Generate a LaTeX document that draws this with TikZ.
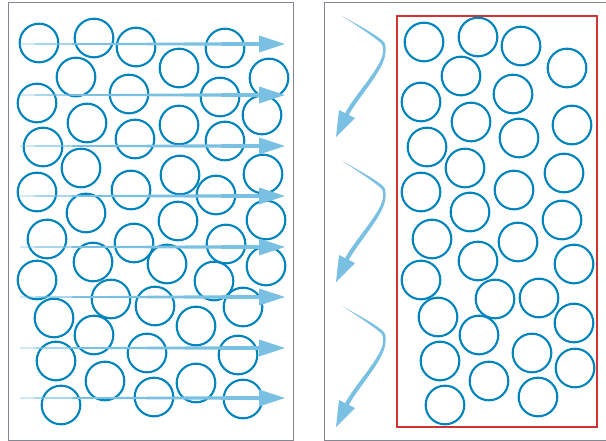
\documentclass[tikz,border=0pt]{standalone}
\usepackage{xcolor}
\definecolor{ballblue}{RGB}{0,132,190}
\definecolor{flowblue}{RGB}{122,192,226}
\definecolor{framegray}{RGB}{135,135,148}
\definecolor{boxred}{RGB}{206,52,52}
\usepackage{tikz}

\begin{document}
\begin{tikzpicture}[
      x=0.03cm, y=-0.03cm,
      ball/.style={circle, draw=ballblue, line width=1.8pt,
                   minimum size=1.16cm, inner sep=0pt},
      panel/.style={draw=framegray, line width=0.8pt},
      flow/.style={fill=flowblue, draw=none}
  ]
  \useasboundingbox (0,0) rectangle (606,441);

  \draw[panel] (8,2) rectangle (293,440);
  \draw[panel] (606,2) -- (324,2) -- (324,440) -- (606,440);
  \draw[draw=boxred, line width=1pt] (397,16) rectangle (597,427);

  \foreach \x/\y [count=\i] in {39/43, 94/38, 136/47, 179/68, 225/48, 269/78,
      76/77, 37/103, 129/94, 220/97, 87/123, 179/125, 262/115, 43/147,
      135/139, 225/141, 81/168, 180/175, 263/174, 37/192, 131/190, 216/195,
      86/213, 178/221, 266/220, 47/239, 134/243, 226/244, 93/262, 167/264,
      266/266, 37/280, 214/281, 111/299, 155/306, 243/307, 54/318, 94/335,
      196/326, 56/361, 147/353, 238/355, 105/381, 196/383, 154/397, 61/405,
      243/399}
    \node[ball] (l\i) at (\x,\y) {};

  \foreach \x/\y [count=\i] in {424/42, 478/37, 521/46, 567/68, 461/76,
      421/102, 513/94, 471/122, 572/125, 427/147, 519/138, 465/168, 564/173,
      421/192, 514/190, 470/212, 562/220, 432/239, 518/242, 478/261, 574/264,
      421/280, 495/299, 539/298, 438/317, 479/335, 574/323, 440/361, 532/353,
      575/368, 489/381, 538/397, 445/405}
    \node[ball] (r\i) at (\x,\y) {};

  \foreach \y in {44,95,146,196,247,297,348,398}
    \fill[flow] (20,\y-0.4) -- (259,\y-2) -- (259,\y-8.5) -- (285,\y)
                -- (259,\y+8.5) -- (259,\y+2) -- (20,\y+0.4) -- cycle;

  \foreach \dy in {0,145,290}
    \fill[flow, shift={(0,\dy)}] (342,16) .. controls (362,27) and (376,35) .. (383,41)
      .. controls (386.5,44) and (386,50) .. (385,56)
      .. controls (382,72) and (358,98) .. (348.8,114.9)
      -- (355,118) -- (336,137) -- (339,110) -- (345.2,113.1)
      .. controls (354,96) and (379,70) .. (382.5,55)
      .. controls (383.5,50) and (383.5,46.5) .. (381.5,43.5)
      .. controls (374,37) and (361,28) .. cycle;
\end{tikzpicture}
\end{document}
